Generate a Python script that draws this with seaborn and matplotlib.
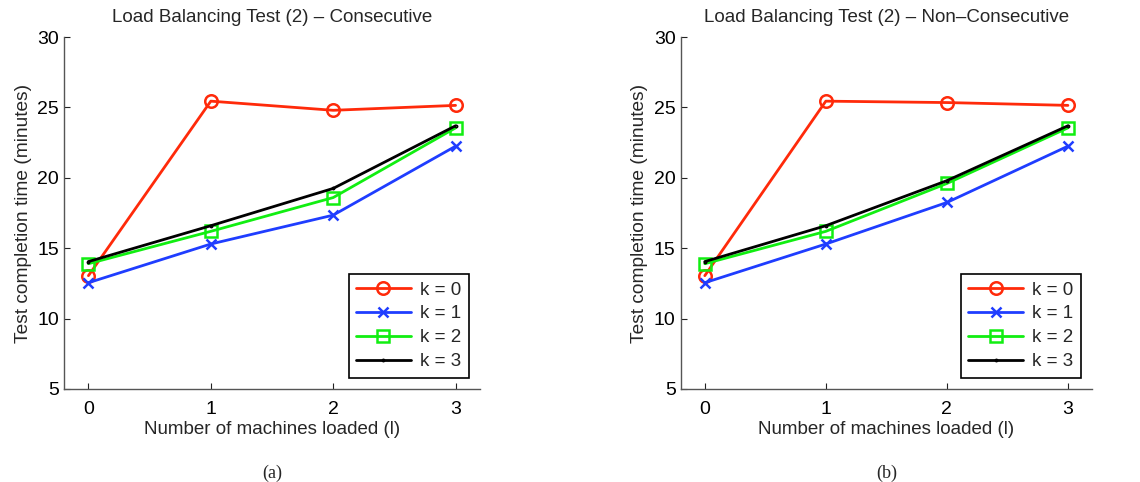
import matplotlib
matplotlib.use("Agg")
import matplotlib.pyplot as plt
import seaborn as sns
import pandas as pd

machines = [0, 1, 2, 3]
k_labels = ["k = 0", "k = 1", "k = 2", "k = 3"]

# (a) consecutive
cons_k0 = [13.05, 25.45, 24.8, 25.15]
cons_k1 = [12.55, 15.3, 17.35, 22.25]
cons_k2 = [13.9, 16.2, 18.6, 23.55]
cons_k3 = [14.05, 16.6, 19.25, 23.7]

# (b) non-consecutive
non_k0 = [13.05, 25.45, 25.35, 25.15]
non_k1 = [12.55, 15.3, 18.25, 22.25]
non_k2 = [13.9, 16.2, 19.6, 23.55]
non_k3 = [14.05, 16.6, 19.8, 23.7]

colors = ["#ff2a0a", "#1f3dff", "#11ee11", "#000000"]
markers = ["o", "x", "s", "."]
msizes = [9, 6.5, 8, 2]

sns.set_style("ticks")
plt.rcParams["font.family"] = ["Liberation Sans", "DejaVu Sans"]

fig = plt.figure(figsize=(11.4, 4.82), dpi=100)
ax1 = fig.add_axes([0.0561, 0.193, 0.365, 0.73])
ax2 = fig.add_axes([0.597, 0.193, 0.361, 0.73])

panels = [
    (ax1, [cons_k0, cons_k1, cons_k2, cons_k3], "Load Balancing Test (2) \u2013 Consecutive", "(a)"),
    (ax2, [non_k0, non_k1, non_k2, non_k3], "Load Balancing Test (2) \u2013 Non\u2013Consecutive", "(b)"),
]

for ax, series, title, cap in panels:
    for vals, lab, c, m, ms in zip(series, k_labels, colors, markers, msizes):
        df = pd.DataFrame({"l": machines, "t": vals})
        sns.lineplot(data=df, x="l", y="t", ax=ax, color=c, marker=m, label=lab,
                     lw=2, ms=ms, mfc="none", mec=c, mew=1.8)
    ax.set_xlim(-0.2, 3.2)
    ax.set_ylim(5, 30)
    ax.set_xticks(machines)
    ax.set_yticks([5, 10, 15, 20, 25, 30])
    ax.tick_params(direction="in", labelsize=14, length=4, width=0.8, colors="#222222", labelcolor="black")
    ax.tick_params(axis="x", pad=9)
    for s in ["top", "right"]:
        ax.spines[s].set_visible(False)
    for s in ["left", "bottom"]:
        ax.spines[s].set_color("#555555")
        ax.spines[s].set_linewidth(1)
    ax.set_title(title, fontsize=13.5, pad=11)
    ax.set_xlabel("Number of machines loaded (l)", fontsize=13.5, labelpad=2)
    ax.set_ylabel("Test completion time (minutes)", fontsize=13.8, labelpad=4)
    leg = ax.legend(loc="lower right", fontsize=13.5, handlelength=2.9, frameon=True,
                    fancybox=False, edgecolor="black", framealpha=1,
                    borderaxespad=0.6, labelspacing=0.36, handletextpad=0.5)
    leg.get_frame().set_linewidth(1.2)
    ax.text(0.5, -0.215, cap, transform=ax.transAxes, ha="center", va="top",
            fontsize=13, family="Liberation Serif")

fig.savefig("out.png", dpi=100)
